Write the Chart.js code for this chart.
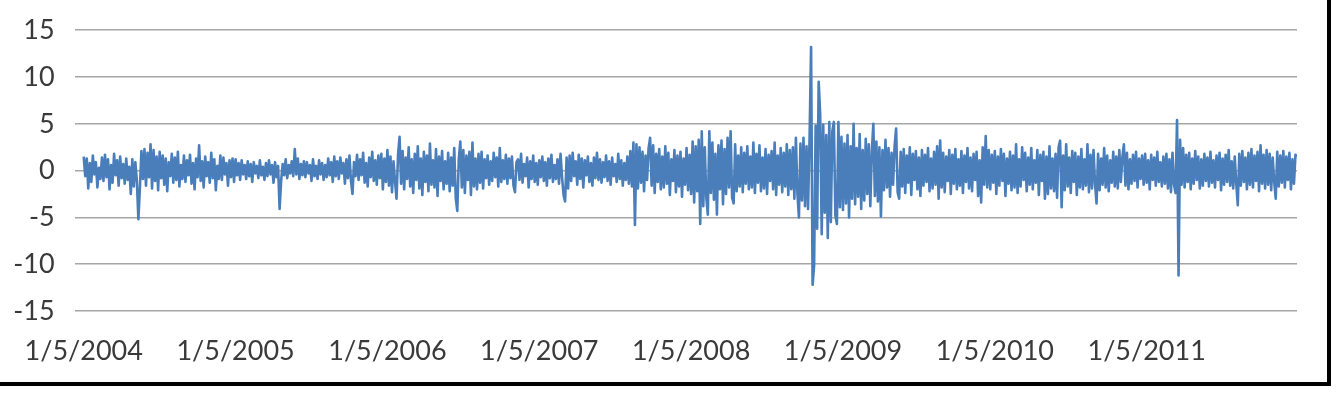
<!DOCTYPE html>
<html><head><meta charset="utf-8">
<script src="https://cdn.jsdelivr.net/npm/chart.js@4/dist/chart.umd.min.js"></script>
<style>
html,body{margin:0;padding:0;background:#fff;overflow:hidden;}
#frame{position:absolute;left:-4px;top:-4px;width:1335px;height:390px;border:4px solid #000;box-sizing:border-box;background:#fff;}
#wrap{position:absolute;left:0;top:-6px;width:1327px;height:388px;}
</style></head><body>
<div id="frame"></div>
<div id="wrap"><canvas id="c"></canvas></div>
<script>
// tick labels on the date axis (one per year, every 100 observations)
const tickLabels = ['1/5/2004','1/5/2005','1/5/2006','1/5/2007','1/5/2008','1/5/2009','1/5/2010','1/5/2011'];
const obsPerLabel = 100;
// y axis ticks
const yTicks = [-15,-10,-5,0,5,10,15];
// series values (daily returns, %)
const returns2004 = [
1.5,-0.6,1.3,-1.9,0.8,-1.2,1.6,-0.4,0.9,-1.8,0.3,-0.9,1.4,-1.1,1.7,-0.7,1.2,-2.0,0.6,-1.3,
1.8,-0.5,1.1,-1.6,1.5,-0.8,0.7,-1.4,1.3,-1.0,0.4,-2.5,1.2,-1.7,0.9,-1.1,-5.2,-1.8,2.1,-0.9,
2.3,-1.6,1.9,-0.7,2.8,-1.9,2.2,-1.1,1.5,-2.1,2.0,-0.8,1.6,-1.5,1.3,-2.2,0.9,-0.6,1.8,-1.3,
1.4,-1.0,2.0,-1.7,0.6,-0.9,1.6,-1.2,1.1,-0.5,1.7,-1.4,0.8,-2.0,1.3,-0.7,2.7,-1.1,1.0,-1.8,
1.5,-0.6,0.9,-1.3,1.9,-0.8,1.2,-2.1,0.5,-0.9,1.6,-1.0,1.4,-0.4,0.8,-1.6,1.1,-0.7,1.3,-1.2];
const returns2005 = [
1.2,-0.5,0.8,-1.0,1.1,-0.4,0.6,-0.9,1.0,-0.6,0.7,-1.2,0.9,-0.3,0.5,-0.8,1.1,-0.5,0.4,-1.0,
0.8,-0.6,1.1,-0.4,0.6,-1.3,0.9,-0.7,0.5,-4.1,-1.1,0.7,-0.5,1.2,-0.8,0.6,-0.3,1.0,-0.6,2.3,
-0.4,1.3,-0.9,0.7,-0.5,1.0,-0.7,0.9,-0.3,0.6,-1.1,1.2,-0.6,0.5,-0.9,1.1,-0.4,0.8,-1.0,0.6,
-0.7,1.3,-0.5,0.9,-1.2,1.5,-0.6,1.0,-0.9,1.4,-0.3,0.8,-1.4,1.2,-0.8,1.6,-1.1,-2.5,0.9,-0.6,
1.7,-1.0,1.2,-0.5,1.9,-1.3,0.8,-1.7,1.4,-0.7,2.0,-1.1,1.1,-1.5,1.6,-0.8,1.8,-2.0,1.3,-1.2];
const returns2006 = [
2.2,-1.6,1.5,-2.3,1.0,-1.1,-3.0,1.7,3.6,-1.4,2.1,-2.0,1.4,-0.9,2.5,-1.7,1.2,-2.4,1.8,-1.0,
2.6,-1.9,1.3,-2.6,2.0,-1.2,1.6,-2.2,2.9,-1.5,1.1,-1.8,2.3,-2.7,1.5,-1.1,2.1,-2.0,1.0,-1.4,
1.9,-2.2,1.4,-1.6,2.4,-2.9,-4.3,1.2,3.1,-1.8,2.2,-2.4,1.6,-1.0,2.0,-2.6,3.0,-1.7,1.3,-2.0,
1.8,-1.3,2.0,-1.9,1.2,-0.8,1.6,-1.5,1.0,-1.1,1.9,-0.7,1.4,-1.7,2.4,-1.2,1.1,-0.9,1.7,-1.4,
1.3,-0.8,1.5,-1.6,-2.3,0.9,1.2,-1.0,1.8,-1.3,0.7,-0.6,1.4,-1.8,1.0,-0.9,1.6,-1.2,0.8,-1.5];
const returns2007 = [
1.1,-0.7,1.5,-1.1,0.9,-1.6,1.3,-0.8,1.7,-1.2,0.6,-0.9,1.2,-1.4,1.8,-0.7,-2.6,-3.3,1.4,-1.9,
1.6,-1.1,1.9,-0.6,1.0,-1.5,1.7,-0.9,1.3,-1.8,1.1,-0.5,1.5,-1.2,0.8,-1.6,1.4,-0.8,1.9,-1.0,
1.2,-1.3,0.9,-0.7,1.6,-1.1,1.0,-1.5,1.4,-0.6,0.7,-1.2,1.8,-0.9,1.1,-1.6,0.8,-1.0,1.5,-1.4,
2.1,-1.7,3.0,-5.8,2.8,-1.9,2.5,-1.3,2.0,-2.2,1.6,-1.0,2.4,3.5,-1.6,2.7,-2.4,1.8,-1.2,2.3,
-2.0,1.5,-1.8,2.6,-1.4,1.9,-2.6,1.2,-1.1,2.2,-2.3,1.6,-1.7,2.0,-2.8,1.3,-1.5,2.4,-2.1,1.7];
const returns2008 = [
-2.5,3.1,-3.4,2.6,-2.2,3.3,-5.7,4.2,-3.8,2.5,-2.9,-4.7,4.2,-2.4,3.0,-3.1,1.8,-4.7,2.7,-2.0,
3.2,-3.6,2.3,-2.5,3.5,-1.8,4.2,-2.9,-3.5,2.8,-2.2,1.6,-1.7,2.5,-2.3,1.9,-1.4,2.6,-2.0,1.5,
-1.8,3.0,-2.4,1.8,-1.3,2.7,-2.2,1.4,-1.9,2.3,-2.5,1.7,-1.1,2.1,-2.0,3.0,-2.6,1.6,-1.5,2.4,
-2.3,1.9,-1.7,2.8,-2.6,2.2,-2.0,2.5,-3.0,3.5,-2.4,-5.0,2.9,-3.2,3.5,-3.8,2.6,-4.1,3.4,13.2,
-12.2,-10.1,4.8,-6.2,9.5,6.0,-6.8,4.9,-4.5,3.8,-7.2,5.2,-5.5,4.2,5.2,-4.8,-5.7,5.2,-3.9,3.6];
const returns2009 = [
-4.2,2.9,-3.5,3.8,-5.0,2.6,-3.0,5.0,-3.6,2.4,-2.8,3.9,-4.1,2.2,-3.2,3.4,-2.5,2.8,-3.8,2.0,
5.0,-2.7,3.1,-3.3,2.5,-4.9,2.2,-2.1,3.3,-1.8,2.4,-2.8,1.9,-1.5,2.6,4.5,-2.3,-3.0,2.0,-1.7,
2.3,-2.4,1.6,-1.3,2.5,-2.6,1.8,-1.0,2.1,-2.0,1.4,-2.7,2.2,-1.6,1.7,-1.2,2.4,-2.2,1.3,-1.9,
2.0,-1.5,2.6,-3.0,3.2,-1.8,1.9,-2.3,1.5,-1.1,2.2,-2.5,1.7,-1.4,2.3,-2.0,1.2,-1.6,2.1,-2.4,
1.6,-1.2,2.4,-1.9,1.4,-2.2,1.8,-1.0,2.0,-2.7,1.1,-3.4,2.5,-1.5,3.7,-1.8,2.2,-2.0,1.7,-1.3];
const returns2010 = [
2.1,-2.5,1.5,-1.6,2.3,-1.1,1.8,-2.7,1.3,-1.4,2.0,-2.1,1.6,-1.8,2.8,-2.4,1.2,-1.7,2.5,-1.0,
1.9,-2.2,1.4,-1.5,2.4,-2.0,1.1,-1.3,2.2,-2.6,1.7,-1.1,2.0,-3.0,1.5,-2.5,2.6,-1.9,1.3,-2.2,
1.8,-2.9,2.5,3.2,-3.9,1.6,-2.1,2.8,-1.7,1.4,-2.4,2.1,-1.2,1.9,-2.6,1.5,-1.8,2.3,-2.0,1.2,
-1.6,2.8,-2.3,1.7,-1.9,2.2,-1.4,-3.5,1.8,-2.1,1.3,-1.5,2.4,-1.8,1.6,-2.2,1.1,-1.3,2.0,-1.7,
1.5,-1.9,2.2,-1.2,1.4,2.8,-1.6,1.9,-2.0,1.2,-1.4,1.7,-1.1,2.0,-1.8,1.3,-0.9,1.6,-1.5,1.8];
const returns2011 = [
-1.3,1.1,-2.0,1.7,-1.0,1.4,-1.6,2.0,-1.2,0.9,-1.7,1.5,-1.4,1.8,-1.9,1.2,-2.3,1.9,-1.5,-2.4,
5.4,-11.2,3.3,-1.5,2.4,-1.8,1.7,-1.2,1.9,-2.0,1.3,-1.4,2.1,-1.0,1.5,-1.9,1.2,-1.6,1.8,-1.1,
1.4,-1.7,2.0,-1.3,1.1,-1.8,1.6,-1.0,1.9,-2.1,1.3,-1.5,1.7,-1.2,2.2,-1.6,1.0,-1.9,1.5,-1.4,
-3.7,1.8,-1.6,2.1,-1.2,1.4,-2.0,1.9,-1.5,2.3,-1.8,1.6,-1.1,2.0,-2.2,2.7,-1.4,1.7,-1.9,2.2,
-1.5,1.8,-2.1,1.4,-1.2,-3.0,2.0,-1.7,1.6,-1.3,2.1,-1.8,1.5,-1.0,1.9,-2.0,1.2,-1.4,1.7,1.5];

const values = [].concat(returns2004, returns2005, returns2006, returns2007,
                         returns2008, returns2009, returns2010, returns2011);
const points = values.map((v, i) => ({x: i, y: v}));

const FONT = 'Lato, "Open Sans", sans-serif';
new Chart(document.getElementById('c'), {
  type: 'line',
  data: { datasets: [{
    data: points,
    borderColor: '#4A7EBB',
    borderWidth: 2.6,
    pointRadius: 0,
    tension: 0,
    borderJoinStyle: 'round',
    fill: false
  }]},
  options: {
    responsive: true,
    maintainAspectRatio: false,
    animation: false,
    events: [],
    layout: { padding: { top: 23, right: 30, left: 0, bottom: 0 } },
    plugins: { legend: { display: false }, tooltip: { enabled: false } },
    scales: {
      x: {
        type: 'linear',
        min: -6,
        max: 799,
        afterBuildTicks: (s) => { s.ticks = tickLabels.map((_, k) => ({ value: k * obsPerLabel })); },
        afterFit: (s) => { s.height = 71; },
        grid: { display: false, drawTicks: false },
        border: { display: false },
        ticks: {
          autoSkip: false, maxRotation: 0, minRotation: 0, padding: 24,
          color: '#3a3a3a', font: { family: FONT, size: 27 },
          callback: (v) => tickLabels[Math.round(v / obsPerLabel)] ?? ''
        }
      },
      y: {
        min: -15, max: 15,
        afterBuildTicks: (s) => { s.ticks = yTicks.map(v => ({ value: v })); },
        afterFit: (s) => { s.width = 72; },
        grid: { color: '#a6a6a6', lineWidth: 1.5, drawTicks: false },
        border: { display: false },
        ticks: { padding: 20, color: '#3a3a3a', font: { family: FONT, size: 27 } }
      }
    }
  }
});
</script>
</body></html>
